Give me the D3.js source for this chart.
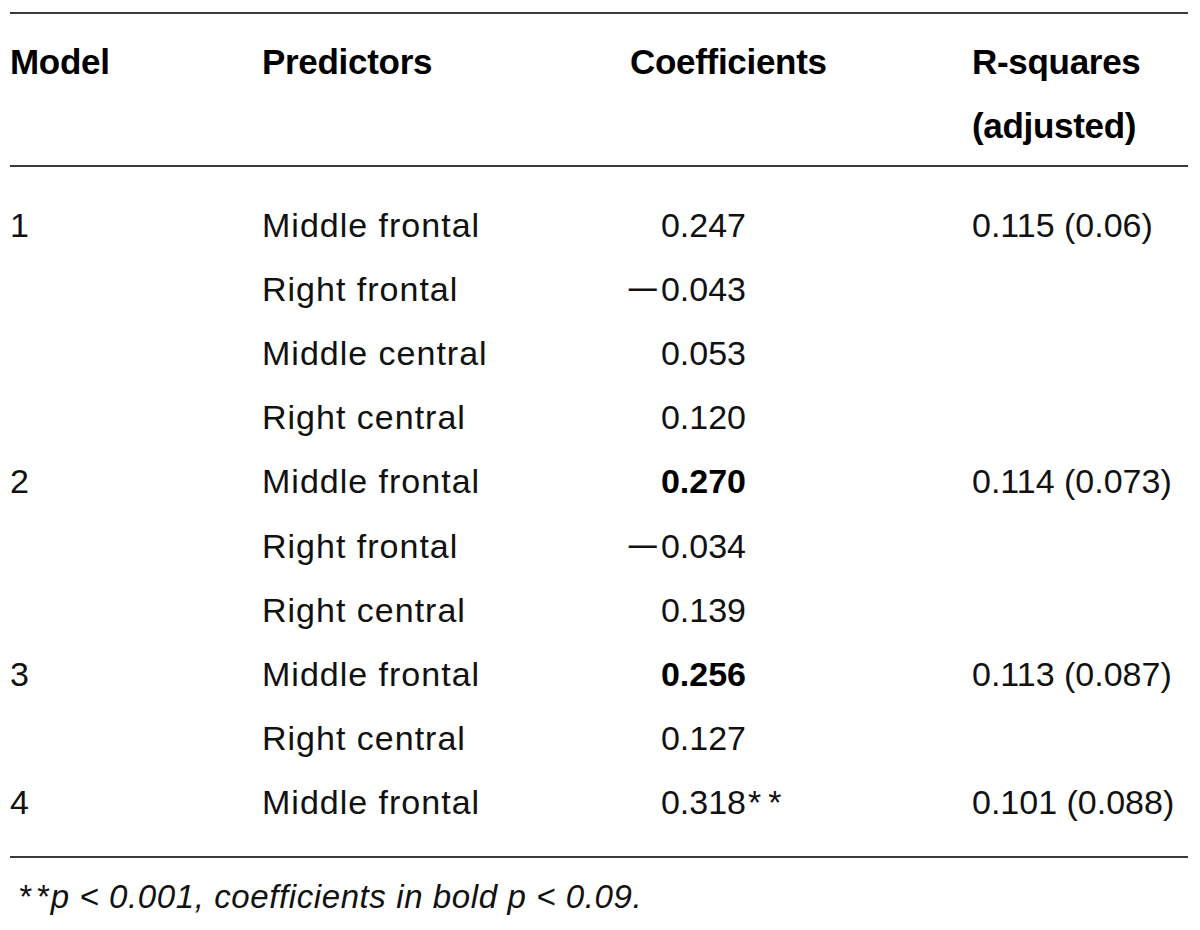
<!DOCTYPE html>
<html>
<head>
<meta charset="utf-8">
<script src="https://cdn.jsdelivr.net/npm/d3@7"></script>
<style>
  html, body { margin: 0; padding: 0; background: #fff; }
  svg { display: block; font-family: "Liberation Sans", Arial, Helvetica, sans-serif; }
</style>
</head>
<body>
<svg id="table" width="1200" height="930"></svg>
<script>
// table contents
const headers = ['Model', 'Predictors', 'Coefficients', 'R-squares'];
const headerSub = ['', '', '', '(adjusted)'];
const models = ['1', '', '', '', '2', '', '', '3', '', '4'];
const predictors = ['Middle frontal', 'Right frontal', 'Middle central', 'Right central',
  'Middle frontal', 'Right frontal', 'Right central',
  'Middle frontal', 'Right central',
  'Middle frontal'];
const coefficients = [0.247, -0.043, 0.053, 0.120, 0.270, -0.034, 0.139, 0.256, 0.127, 0.318];
const boldCoef = [false, false, false, false, true, false, false, true, false, false];
const stars = ['', '', '', '', '', '', '', '', '', '**'];
const rSquares = ['0.115 (0.06)', '', '', '', '0.114 (0.073)', '', '', '0.113 (0.087)', '', '0.101 (0.088)'];
const footStars = '**';
const footnote = 'p < 0.001, coefficients in bold p < 0.09.';

const svg = d3.select('#table');

const colX = d3.scaleOrdinal().domain(['model', 'pred', 'coef', 'rsq']).range([10, 262, 630, 972]);
const coefRight = 746;
const rowY = d3.scalePoint().domain(d3.range(predictors.length)).range([237, 814]);

// rules
const rules = [13, 166, 857];
svg.append('g').selectAll('line').data(rules).enter().append('line')
  .attr('x1', 10).attr('x2', 1188)
  .attr('y1', d => d).attr('y2', d => d)
  .attr('stroke', '#3a3a3a').attr('stroke-width', 2);

// header
const hdr = svg.append('g').attr('font-weight', 'bold').attr('font-size', 35).attr('fill', '#000');
hdr.selectAll('text.h1').data(headers).enter().append('text').attr('class', 'h1')
  .attr('x', (d, i) => colX.range()[i]).attr('y', 74).attr('letter-spacing', -0.3).text(d => d);
hdr.selectAll('text.h2').data(headerSub).enter().append('text').attr('class', 'h2')
  .attr('x', (d, i) => colX.range()[i]).attr('y', 138).attr('letter-spacing', -0.3).text(d => d);

// body
const rows = svg.append('g').attr('font-size', 34).attr('fill', '#111')
  .selectAll('g.row').data(d3.range(predictors.length)).enter().append('g').attr('class', 'row')
  .attr('transform', i => `translate(0,${rowY(i)})`);

rows.append('text').attr('x', colX('model')).text(i => models[i]);
rows.append('text').attr('x', colX('pred')).attr('letter-spacing', 1).text(i => predictors[i]);
rows.append('text').attr('x', coefRight).attr('text-anchor', 'end')
  .attr('font-weight', i => boldCoef[i] ? 'bold' : 'normal')
  .attr('fill', i => boldCoef[i] ? '#000' : '#111')
  .text(i => Math.abs(coefficients[i]).toFixed(3));
// long minus sign, as in the typeset original
const minusX = colX('coef') - 4;
rows.filter(i => coefficients[i] < 0).append('text')
  .attr('x', minusX).attr('transform', 'scale(1.7,1)')
  .attr('transform-origin', `${minusX} 0`)
  .text('\u2212');
rows.append('text').attr('x', coefRight + 2).attr('letter-spacing', 7).text(i => stars[i]);
rows.append('text').attr('x', colX('rsq')).text(i => rSquares[i]);

// footnote
const fn = svg.append('text').attr('x', 18).attr('y', 908)
  .attr('font-size', 33).attr('font-style', 'italic').attr('fill', '#111')
  .attr('letter-spacing', 0.6);
fn.append('tspan').attr('letter-spacing', 5).text(footStars);
fn.append('tspan').attr('dx', -3).text(footnote);
</script>
</body>
</html>
